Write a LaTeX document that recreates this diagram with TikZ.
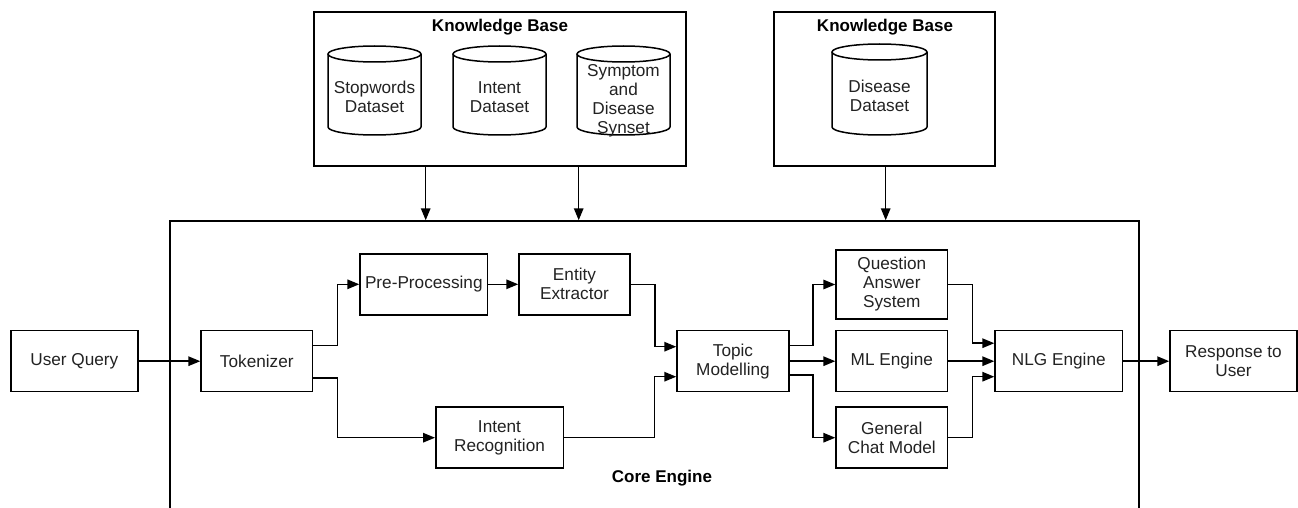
\documentclass[tikz,border=0pt]{standalone}
\usepackage{fontspec}
\setmainfont{Liberation Sans}
\usetikzlibrary{arrows.meta,calc}
\definecolor{txt}{HTML}{222222}
\newcommand{\dbcyl}[5]{% name, cx, ytop, ybot, rx
  \draw[line width=1.5pt,fill=white] (#2-#5,#3+8) -- (#2-#5,#4-8)
     arc[start angle=180,end angle=360,x radius=#5 pt,y radius=8pt] -- (#2+#5,#3+8);
  \draw[line width=1.5pt] (#2,#3+8) ellipse [x radius=#5 pt,y radius=8pt];
  \coordinate (#1) at (#2,{(#3+#4)/2});
}
\begin{document}
\begin{tikzpicture}[x=1pt,y=-1pt,
  font=\fontsize{17.2}{19}\selectfont,
  box/.style={draw,line width=1.5pt,rectangle,align=center,text=txt,inner sep=0pt},
  ttl/.style={font=\fontsize{17}{19}\selectfont\bfseries,text=black},
  lbl/.style={align=center,text=txt},
  arr/.style={line width=1.5pt,-{Triangle[length=12pt,width=9.5pt]}},
  ln/.style={line width=1.5pt}]
\useasboundingbox (0,0) rectangle (1298,508);
\clip (0,0) rectangle (1298,508);

% knowledge bases
\node[box,minimum width=372pt,minimum height=154pt] (kb1) at (500,89) {};
\node[ttl] (kb1t) at (500,27) {Knowledge Base};
\dbcyl{c1}{374.5}{46}{135}{46.5}
\dbcyl{c2}{499.5}{46}{135}{46.5}
\dbcyl{c3}{623.5}{46}{135}{46.5}
\node[lbl] (c1t) at (374.5,97) {Stopwords\\Dataset};
\node[lbl] (c2t) at (499.5,97) {Intent\\Dataset};
\node[lbl] (c3t) at (623.5,101) {Symptom\\and\\Disease\\Synset};

\node[box,minimum width=221pt,minimum height=154pt] (kb2) at (884.5,89) {};
\node[ttl] (kb2t) at (885,27) {Knowledge Base};
\dbcyl{c4}{879.5}{44}{135}{47.5}
\node[lbl] (c4t) at (879.5,96) {Disease\\Dataset};

% core engine
\node[box,minimum width=969pt,minimum height=320pt] (core) at (654.5,381) {};
\node[ttl] (coret) at (662,478) {Core Engine};

\coordinate (a1) at (425.7,0);
\coordinate (a2) at (578.7,0);
\coordinate (a3) at (885.7,0);
\draw[arr] (kb1.south -| a1) -- (core.north -| a1);
\draw[arr] (kb1.south -| a2) -- (core.north -| a2);
\draw[arr] (kb2.south -| a3) -- (core.north -| a3);

% nodes
\node[box,minimum width=127pt,minimum height=61pt] (uq) at (74.3,361.2) {User Query};
\node[box,minimum width=111.5pt,minimum height=61pt] (tok) at (256.8,361.2) {Tokenizer};
\node[box,minimum width=127.5pt,minimum height=61pt] (pre) at (423.8,284.3) {Pre-Processing};
\node[box,minimum width=111pt,minimum height=61pt] (ent) at (574.5,284.3) {Entity\\Extractor};
\node[box,minimum width=127.5pt,minimum height=61pt] (intr) at (499.5,437.7) {Intent\\Recognition};
\node[box,minimum width=112pt,minimum height=61pt] (topic) at (733,361.2) {Topic\\Modelling};
\node[box,minimum width=111.5pt,minimum height=69pt] (qa) at (891.8,284.5) {Question\\Answer\\System};
\node[box,minimum width=111.5pt,minimum height=61pt] (ml) at (891.8,361.2) {ML Engine};
\node[box,minimum width=111.5pt,minimum height=61pt] (gen) at (891.8,437.7) {General\\Chat Model};
\node[box,minimum width=127.5pt,minimum height=61pt] (nlg) at (1058.8,361.2) {NLG Engine};
\node[box,minimum width=127pt,minimum height=61pt] (resp) at (1233.5,361.2) {Response to\\User};

% connectors
\draw[arr] (uq.east) -- (tok.west);
\draw[arr] ([yshift=15.5pt]tok.east) -- ++(24,0) |- (pre.west);
\draw[arr] ([yshift=-17pt]tok.east) -- ++(24,0) |- (intr.west);
\draw[arr] (pre.east) -- (ent.west);
\draw[arr] (ent.east) -- ++(24.3,0) |- ([yshift=14.5pt]topic.west);
\draw[arr] (intr.east) -- ++(90.7,0) |- ([yshift=-15.5pt]topic.west);
\draw[arr] ([yshift=15.5pt]topic.east) -- ++(23.3,0) |- (qa.west);
\draw[arr] (topic.east) -- (ml.west);
\draw[arr] ([yshift=-14pt]topic.east) -- ++(23.3,0) |- (gen.west);
\draw[arr] (qa.east) -- ++(24,0) |- ([yshift=18pt]nlg.west);
\draw[arr] (ml.east) -- (nlg.west);
\draw[arr] (gen.east) -- ++(24,0) |- ([yshift=-15.5pt]nlg.west);
\draw[arr] (nlg.east) -- (resp.west);
\end{tikzpicture}
\end{document}
